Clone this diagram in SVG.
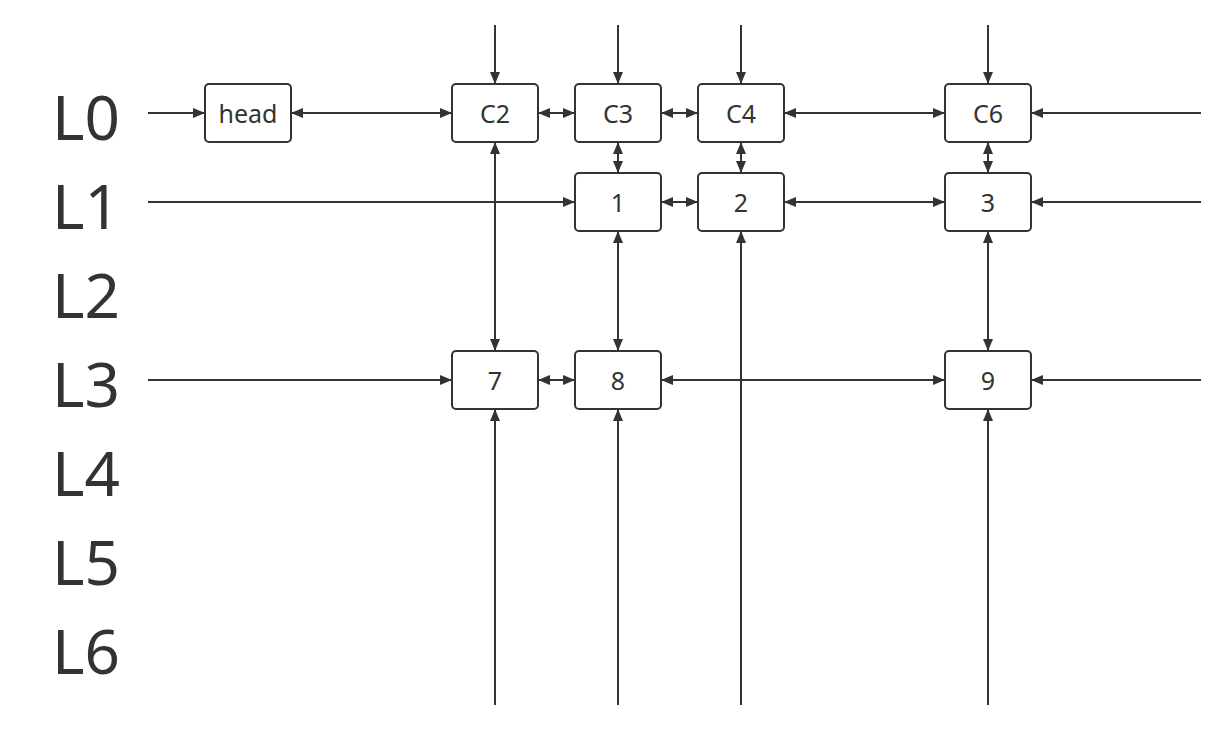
<svg xmlns="http://www.w3.org/2000/svg" width="1226" height="731" viewBox="0 0 1226 731">
<style>
.box{fill:#fff;stroke:#333;stroke-width:2}
.t{font-family:"Noto Sans","Open Sans",sans-serif;font-size:25px;fill:#333;text-anchor:middle;dominant-baseline:central}
.lv{font-family:"Noto Sans","Open Sans",sans-serif;font-size:62px;fill:#333}
.c{stroke:#333;stroke-width:2;fill:none}
.a{marker-end:url(#ah)}
.d{marker-start:url(#ah);marker-end:url(#ah)}
</style>
<defs>
<marker id="ah" markerUnits="userSpaceOnUse" markerWidth="13" markerHeight="11" refX="12" refY="5" orient="auto-start-reverse" viewBox="0 0 13 10">
<path d="M0,0 L12,5 L0,10 z" fill="#333"/>
</marker>
</defs>
<rect width="1226" height="731" fill="#fff"/>
<g id="levels">
<text class="lv" x="52" y="140">L0</text>
<text class="lv" x="52" y="229">L1</text>
<text class="lv" x="52" y="318">L2</text>
<text class="lv" x="52" y="407">L3</text>
<text class="lv" x="52" y="496">L4</text>
<text class="lv" x="52" y="585">L5</text>
<text class="lv" x="52" y="674">L6</text>
</g>
<g id="connectors">
<!-- row 0 -->
<line class="c a" x1="148" y1="113" x2="205" y2="113"/>
<line class="c d" x1="291" y1="113" x2="452" y2="113"/>
<line class="c d" x1="538" y1="113" x2="575" y2="113"/>
<line class="c d" x1="661" y1="113" x2="698" y2="113"/>
<line class="c d" x1="784" y1="113" x2="945" y2="113"/>
<line class="c a" x1="1201" y1="113" x2="1031" y2="113"/>
<!-- top verticals -->
<line class="c a" x1="495" y1="25" x2="495" y2="84"/>
<line class="c a" x1="618" y1="25" x2="618" y2="84"/>
<line class="c a" x1="741" y1="25" x2="741" y2="84"/>
<line class="c a" x1="988" y1="25" x2="988" y2="84"/>
<!-- row 1 -->
<line class="c a" x1="148" y1="202" x2="575" y2="202"/>
<line class="c d" x1="661" y1="202" x2="698" y2="202"/>
<line class="c d" x1="784" y1="202" x2="945" y2="202"/>
<line class="c a" x1="1201" y1="202" x2="1031" y2="202"/>
<!-- verticals row0-row1 -->
<line class="c d" x1="618" y1="142" x2="618" y2="173"/>
<line class="c d" x1="741" y1="142" x2="741" y2="173"/>
<line class="c d" x1="988" y1="142" x2="988" y2="173"/>
<!-- long verticals -->
<line class="c d" x1="495" y1="142" x2="495" y2="351"/>
<line class="c d" x1="618" y1="231" x2="618" y2="351"/>
<line class="c d" x1="988" y1="231" x2="988" y2="351"/>
<line class="c a" x1="741" y1="705" x2="741" y2="231"/>
<!-- row 3 -->
<line class="c a" x1="148" y1="380" x2="452" y2="380"/>
<line class="c d" x1="538" y1="380" x2="575" y2="380"/>
<line class="c d" x1="661" y1="380" x2="945" y2="380"/>
<line class="c a" x1="1201" y1="380" x2="1031" y2="380"/>
<!-- bottom verticals -->
<line class="c a" x1="495" y1="705" x2="495" y2="409"/>
<line class="c a" x1="618" y1="705" x2="618" y2="409"/>
<line class="c a" x1="988" y1="705" x2="988" y2="409"/>
</g>
<g id="head"><rect class="box" x="205" y="84" width="86" height="58" rx="4"/><text class="t" x="248" y="113">head</text></g>
<g id="C2"><rect class="box" x="452" y="84" width="86" height="58" rx="4"/><text class="t" x="495" y="113">C2</text></g>
<g id="C3"><rect class="box" x="575" y="84" width="86" height="58" rx="4"/><text class="t" x="618" y="113">C3</text></g>
<g id="C4"><rect class="box" x="698" y="84" width="86" height="58" rx="4"/><text class="t" x="741" y="113">C4</text></g>
<g id="C6"><rect class="box" x="945" y="84" width="86" height="58" rx="4"/><text class="t" x="988" y="113">C6</text></g>
<g id="n1"><rect class="box" x="575" y="173" width="86" height="58" rx="4"/><text class="t" x="618" y="202">1</text></g>
<g id="n2"><rect class="box" x="698" y="173" width="86" height="58" rx="4"/><text class="t" x="741" y="202">2</text></g>
<g id="n3"><rect class="box" x="945" y="173" width="86" height="58" rx="4"/><text class="t" x="988" y="202">3</text></g>
<g id="n7"><rect class="box" x="452" y="351" width="86" height="58" rx="4"/><text class="t" x="495" y="380">7</text></g>
<g id="n8"><rect class="box" x="575" y="351" width="86" height="58" rx="4"/><text class="t" x="618" y="380">8</text></g>
<g id="n9"><rect class="box" x="945" y="351" width="86" height="58" rx="4"/><text class="t" x="988" y="380">9</text></g>
</svg>
